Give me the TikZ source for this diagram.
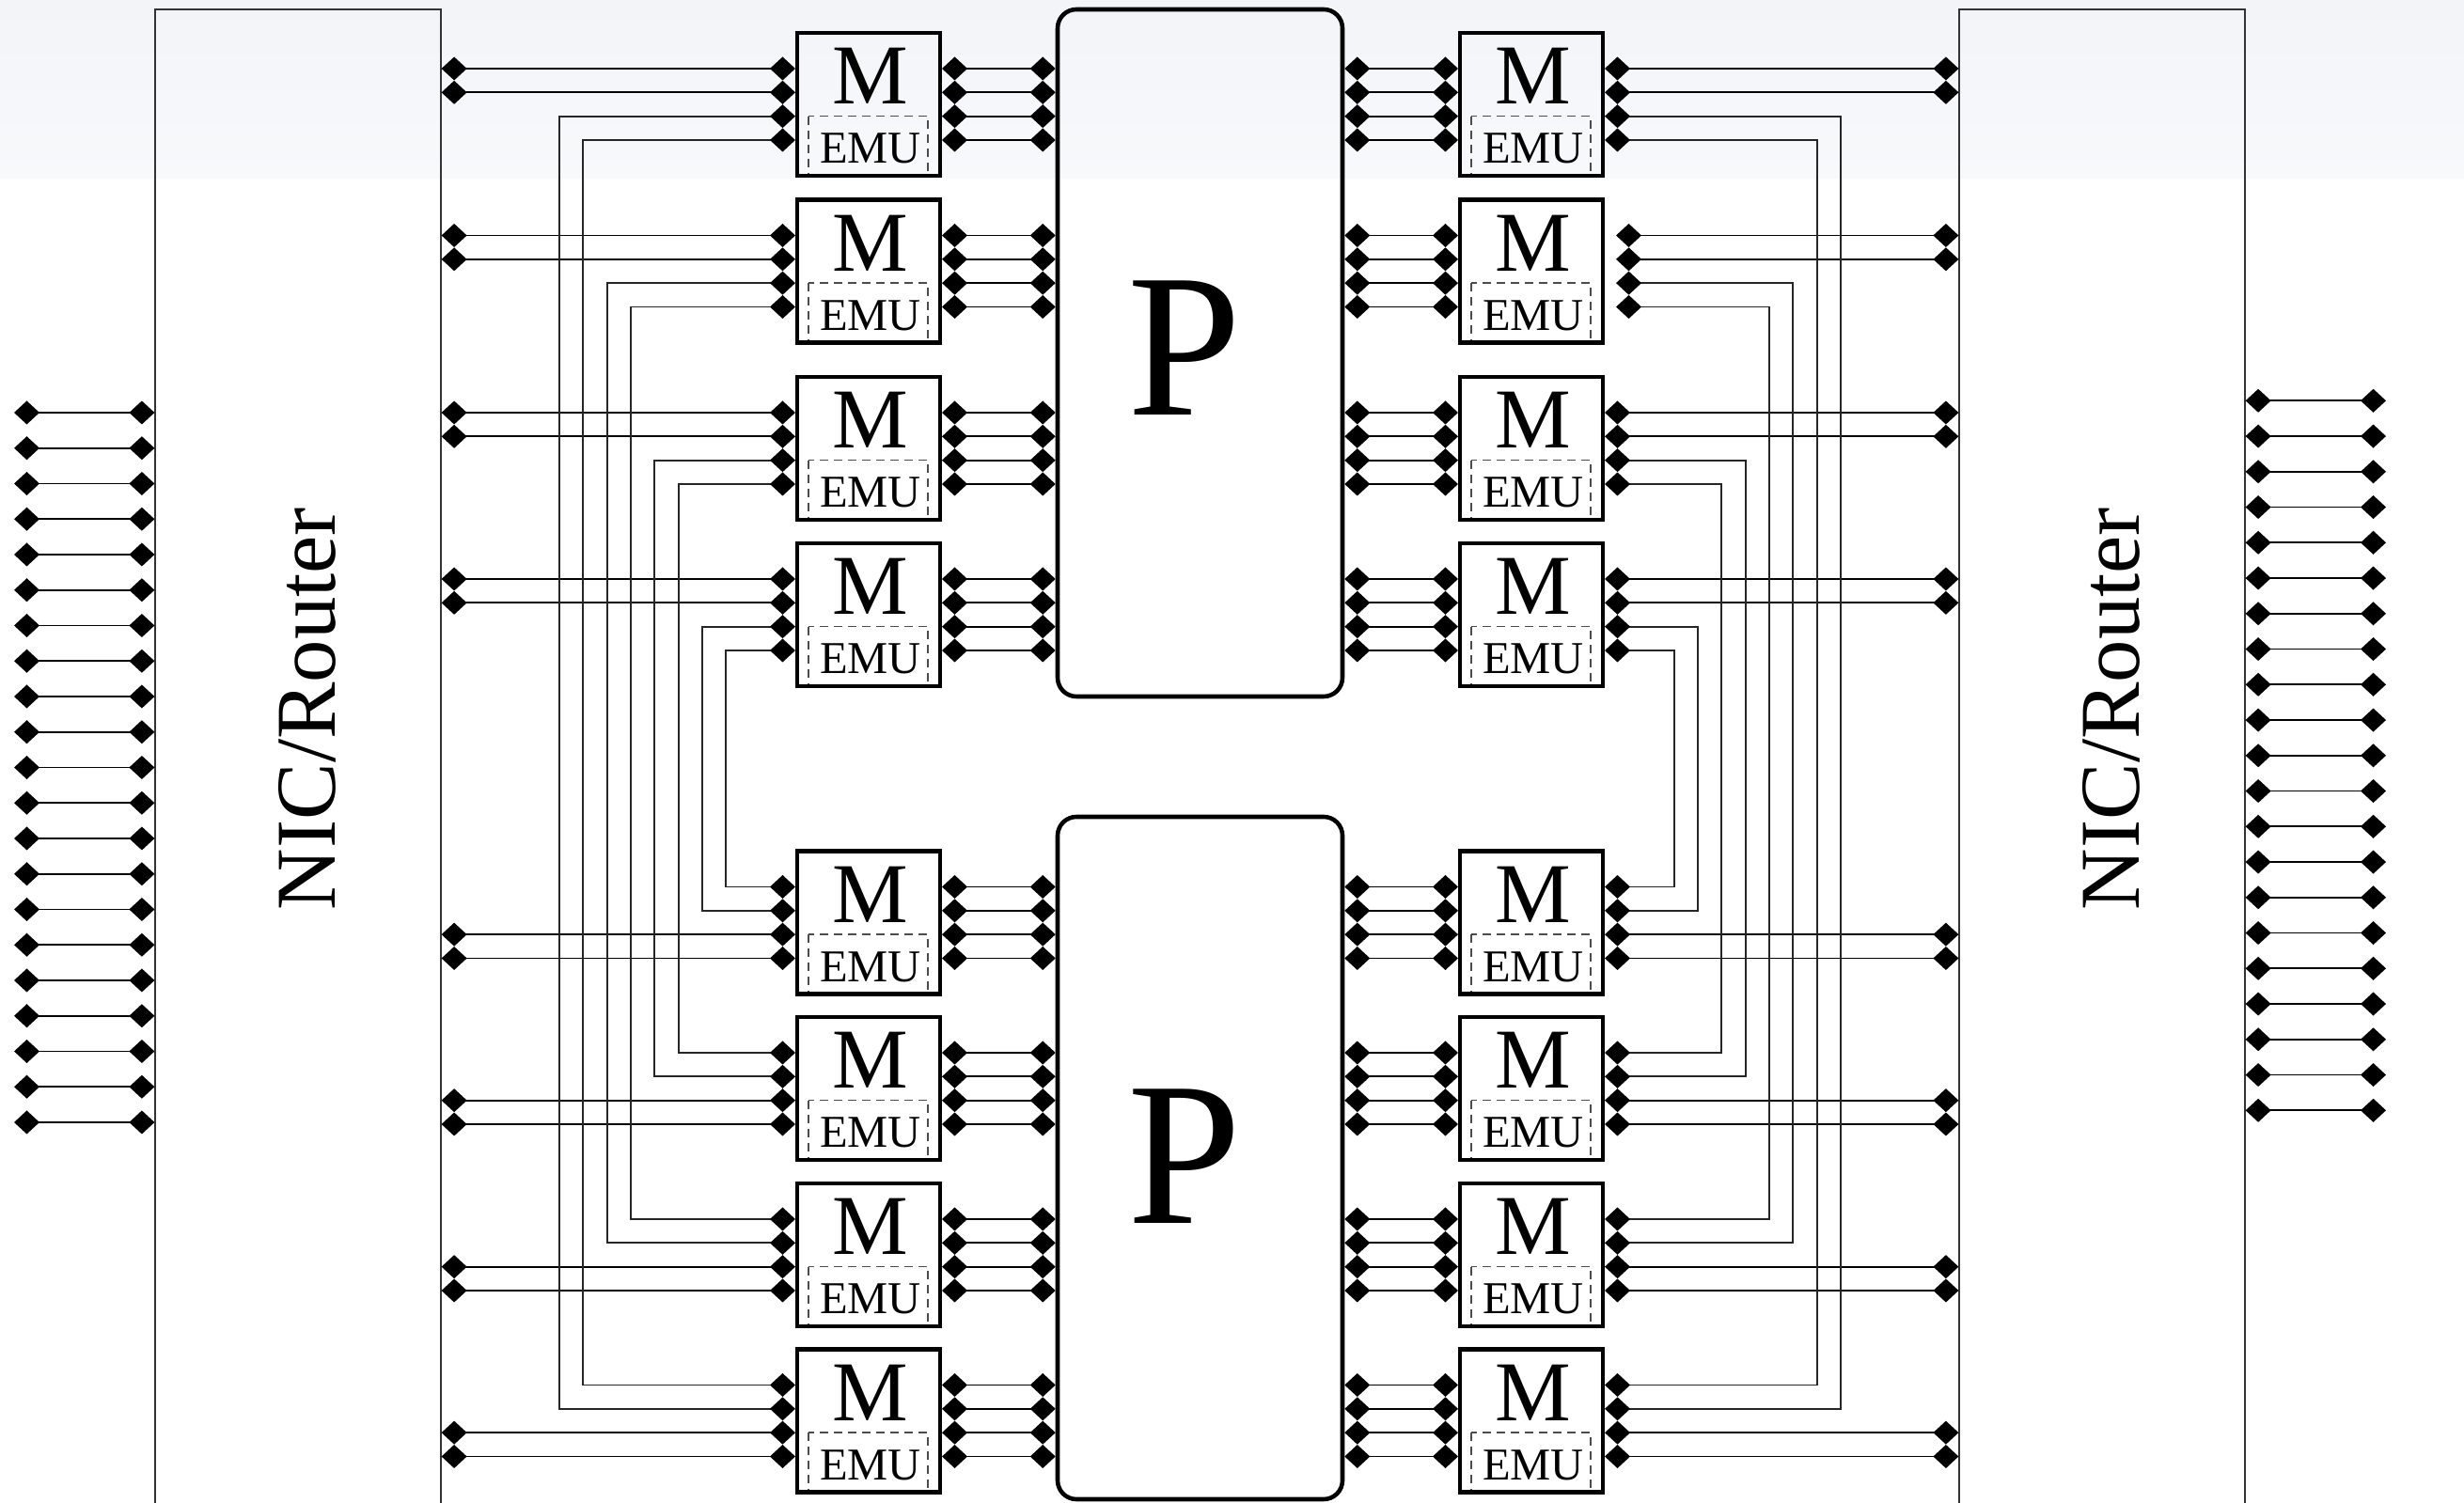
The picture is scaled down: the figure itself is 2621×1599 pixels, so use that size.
\documentclass[tikz,border=0pt]{standalone}
\usepackage{fontspec}
\setmainfont{Liberation Serif}
\usepackage{tikz}
\usetikzlibrary{arrows.meta, calc}

\definecolor{bandtop}{RGB}{242,244,248}
\definecolor{bandbot}{RGB}{248,249,251}

\tikzset{
  membox/.style={draw, line width=1.15pt, minimum width=1.52cm, minimum height=1.52cm, inner sep=0pt},
  procbox/.style={draw, line width=1.3pt, rounded corners=2mm, minimum width=3.03cm, inner sep=0pt},
  nicbox/.style={draw=black!80, line width=0.35pt, minimum width=3.04cm, minimum height=16.1cm, inner sep=0pt},
  emubox/.style={draw=black!70, line width=0.4pt, dash pattern=on 0.9mm off 0.6mm},
  mtext/.style={inner sep=0pt, font=\fontsize{25.8}{30}\selectfont},
  emutext/.style={inner sep=0pt, font=\fontsize{13.8}{16}\selectfont},
  ptext/.style={inner sep=0pt, font=\fontsize{62}{70}\selectfont},
  nictext/.style={inner sep=0pt, rotate=90, anchor=base, font=\fontsize{25.8}{30}\selectfont},
  link/.style={line width=0.5pt, <->},
  wire/.style={line width=0.5pt, draw=black!85, <->},
  >={Diamond[length=2.7mm,width=2.5mm,color=black]},
}

\begin{document}
\begin{tikzpicture}[x=0.1mm,y=-0.1mm]

\useasboundingbox (0,0) rectangle (2621,1599);
\shade[top color=bandtop, bottom color=bandbot] (0,0) rectangle (2621,190);

% --- NIC / ROUTER ---
\node[nicbox] (nicL) at (317,815) {};
\node[nicbox] (nicR) at (2236,815) {};
\node[nictext] (nicLl) at (356,754) {NIC/Router};
\node[nictext] (nicRl) at (2275,754) {NIC/Router};

% --- PROCESSORS ---
\node[procbox, minimum height=7.31cm] (pT) at (1276.5,375.5) {};
\node[procbox, minimum height=7.26cm] (pB) at (1276.5,1232) {};
\node[ptext] (pTl) at (1260,370) {P};
\node[ptext] (pBl) at (1260,1230) {P};

% --- MEMORY MODULES ---
\foreach \r/\cy in {1/111,2/288.5,3/477,4/654,5/981.5,6/1158,7/1335,8/1511.5} {
  \foreach \side/\cx in {L/924,R/1629} {
    \draw[emubox] (\cx-64,\cy+12.67) rectangle (\cx+63,\cy+76);
    \node[membox] (m\side\r) at (\cx,\cy) {};
    \node[mtext] (m\side\r m) at (\cx+2,\cy-30) {M};
    \node[emutext] (m\side\r emu) at (\cx+2,\cy+47) {EMU};
    \foreach \k/\dy in {1/-38,2/-12.67,3/12.67,4/38} {
      \coordinate (m\side\r w\k) at ($(m\side\r.west)+(0,\dy)$);
      \coordinate (m\side\r e\k) at ($(m\side\r.east)+(0,\dy)$);
    }
  }
}

% --- M TO P ---
\foreach \r/\p in {1/pT,2/pT,3/pT,4/pT,5/pB,6/pB,7/pB,8/pB} {
  \foreach \k in {1,...,4} {
    \draw[link] (mL\r e\k) -- (\p.west |- mL\r e\k);
    \draw[link] (mR\r w\k) -- (\p.east |- mR\r w\k);
  }
}

% --- M TO NIC, TOP ROWS ---
\foreach \r/\gap in {1/0,2/1.2,3/0,4/0} {
  \foreach \k in {1,2} {
    \draw[link] (nicL.east |- mL\r w\k) -- (mL\r w\k);
    \draw[link, shorten <=\gap mm] (mR\r e\k) -- (nicR.west |- mR\r e\k);
  }
}

% --- M TO NIC, BOTTOM ROWS ---
\foreach \r in {5,...,8} {
  \foreach \k in {3,4} {
    \draw[link] (nicL.east |- mL\r w\k) -- (mL\r w\k);
    \draw[link] (mR\r e\k) -- (nicR.west |- mR\r e\k);
  }
}

% --- WIRES TOP TO BOTTOM ---
\foreach \r/\s/\xa/\xb/\ya/\yb/\gap in {1/8/595/620.3/1958/1932.7/0,
    2/7/645.7/671/1907.3/1882/1.2,
    3/6/696.3/721.7/1856.7/1831.3/0,
    4/5/747/772.3/1806/1780.7/0} {
  \coordinate (vL\r a) at (\xa,0);
  \coordinate (vL\r b) at (\xb,0);
  \coordinate (vR\r a) at (\ya,0);
  \coordinate (vR\r b) at (\yb,0);
  \draw[wire] (mL\r w3) -- (vL\r a |- mL\r w3) -- (vL\r a |- mL\s w2) -- (mL\s w2);
  \draw[wire] (mL\r w4) -- (vL\r b |- mL\r w4) -- (vL\r b |- mL\s w1) -- (mL\s w1);
  \draw[wire, shorten <=\gap mm] (mR\r e3) -- (vR\r a |- mR\r e3) -- (vR\r a |- mR\s e2) -- (mR\s e2);
  \draw[wire, shorten <=\gap mm] (mR\r e4) -- (vR\r b |- mR\r e4) -- (vR\r b |- mR\s e1) -- (mR\s e1);
}

% --- EXTERNAL LINKS ---
\foreach \i in {0,...,20} {
  \coordinate (xL\i) at (15,439+37.75*\i);
  \coordinate (xR\i) at (2538,426.3+37.75*\i);
  \draw[link] (xL\i) -- (nicL.west |- xL\i);
  \draw[link] (nicR.east |- xR\i) -- (xR\i);
}

\end{tikzpicture}
\end{document}
